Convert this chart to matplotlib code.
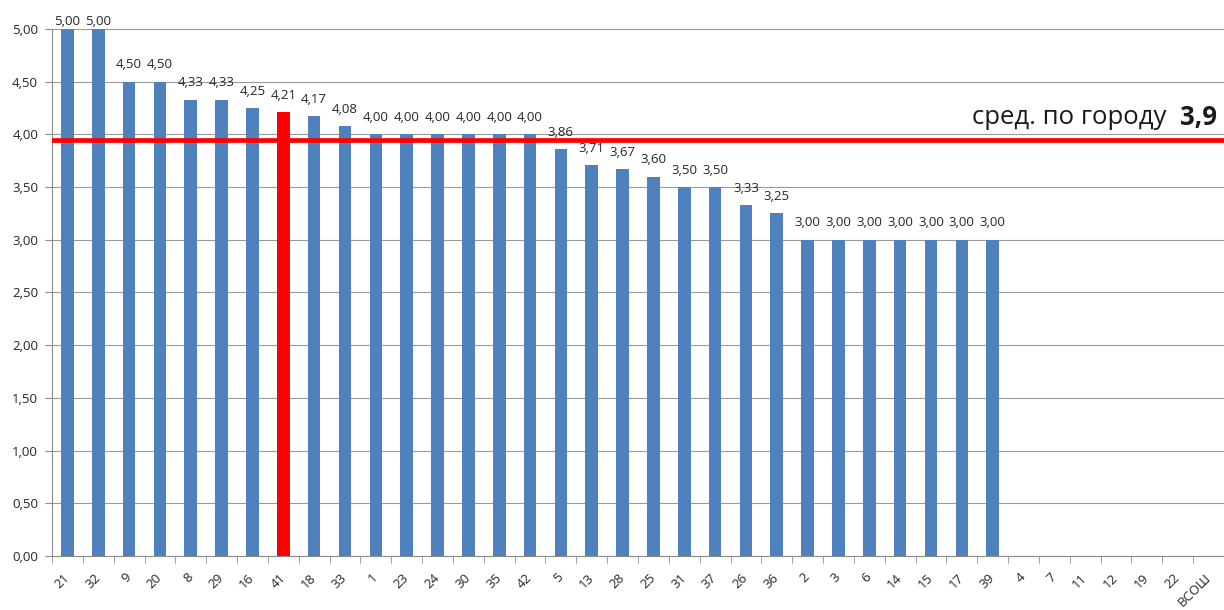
# Average score by school, bar chart with city average line

import numpy as np
import matplotlib.pyplot as plt
from matplotlib.ticker import MultipleLocator, FuncFormatter
from matplotlib.transforms import ScaledTranslation

schools = ['21', '32', '9', '20', '8', '29', '16', '41', '18', '33', '1', '23', '24',
           '30', '35', '42', '5', '13', '28', '25', '31', '37', '26', '36', '2', '3',
           '6', '14', '15', '17', '39', '4', '7', '11', '12', '19', '22', 'ВСОШ']
scores = [5.00, 5.00, 4.50, 4.50, 4.33, 4.33, 4.25, 4.21, 4.17, 4.08, 4.00, 4.00, 4.00,
          4.00, 4.00, 4.00, 3.86, 3.71, 3.67, 3.60, 3.50, 3.50, 3.33, 3.25, 3.00, 3.00,
          3.00, 3.00, 3.00, 3.00, 3.00, None, None, None, None, None, None, None]
highlight = '41'
cityAvg = 3.95
cityAvgText = '3,9'

blue = '#4F81BD'
red = '#FF0000'
grey = '#8C8C8C'
textCol = '#262626'

plt.rcParams['font.family'] = ['Open Sans', 'DejaVu Sans']

fig = plt.figure(figsize = (12.24, 6.10), dpi = 100)
ax = fig.add_axes([0.0425, 0.0885, 0.9575, 0.864])

x = np.arange(len(schools))
heights = [v if v is not None else 0 for v in scores]
colors = [red if s == highlight else blue for s in schools]
ax.bar(x, heights, width = 0.41, color = colors, zorder = 2)

# value labels above bars (the top ones sit lower, like Excel pushes them inside)
for xi, v in zip(x, scores):
    if v is None:
        continue
    off = 1 if v >= 5 else 7.5
    ax.annotate(f'{v:.2f}'.replace('.', ','), (xi, v), xytext = (0, off),
                textcoords = 'offset points', ha = 'center', va = 'bottom',
                fontsize = 9.5, color = textCol, zorder = 5, annotation_clip = False)

# city average line
ax.axhline(cityAvg, color = red, linewidth = 3.4, zorder = 3)
boldText = fig.text(0.994, 0.808, cityAvgText, ha = 'right', va = 'center',
                    fontsize = 18.5, fontweight = 'bold', color = '#1a1a1a')
ax.annotate('сред. по городу  ', xy = (0, 0.5), xycoords = boldText,
            ha = 'right', va = 'center', fontsize = 18.5, color = '#1a1a1a')

ax.set_xlim(-0.5, len(schools) - 0.5)
ax.set_ylim(0, 5)
ax.yaxis.set_major_locator(MultipleLocator(0.5))
ax.yaxis.set_major_formatter(FuncFormatter(lambda v, p: f'{v:.2f}'.replace('.', ',')))
ax.grid(axis = 'y', color = '#9A9A9A', linewidth = 0.8, zorder = 0)

ax.set_xticks(x)
ax.set_xticklabels(schools, rotation = 45, ha = 'right', va = 'center',
                   rotation_mode = 'anchor', fontsize = 9.5, color = textCol)
shift = ScaledTranslation(4 / 72, 0, fig.dpi_scale_trans)
for lbl in ax.get_xticklabels():
    lbl.set_transform(lbl.get_transform() + shift)
ax.set_xticks(np.arange(-0.5, len(schools), 1), minor = True)
ax.tick_params(axis = 'x', which = 'major', length = 0, pad = 14)
ax.tick_params(axis = 'x', which = 'minor', length = 5, color = grey)
ax.tick_params(axis = 'y', length = 5, color = grey, labelsize = 9.5, labelcolor = textCol, pad = 5)

for side in ['top', 'right']:
    ax.spines[side].set_visible(False)
for side in ['left', 'bottom']:
    ax.spines[side].set_color(grey)

fig.savefig('out.png', dpi = 100)
